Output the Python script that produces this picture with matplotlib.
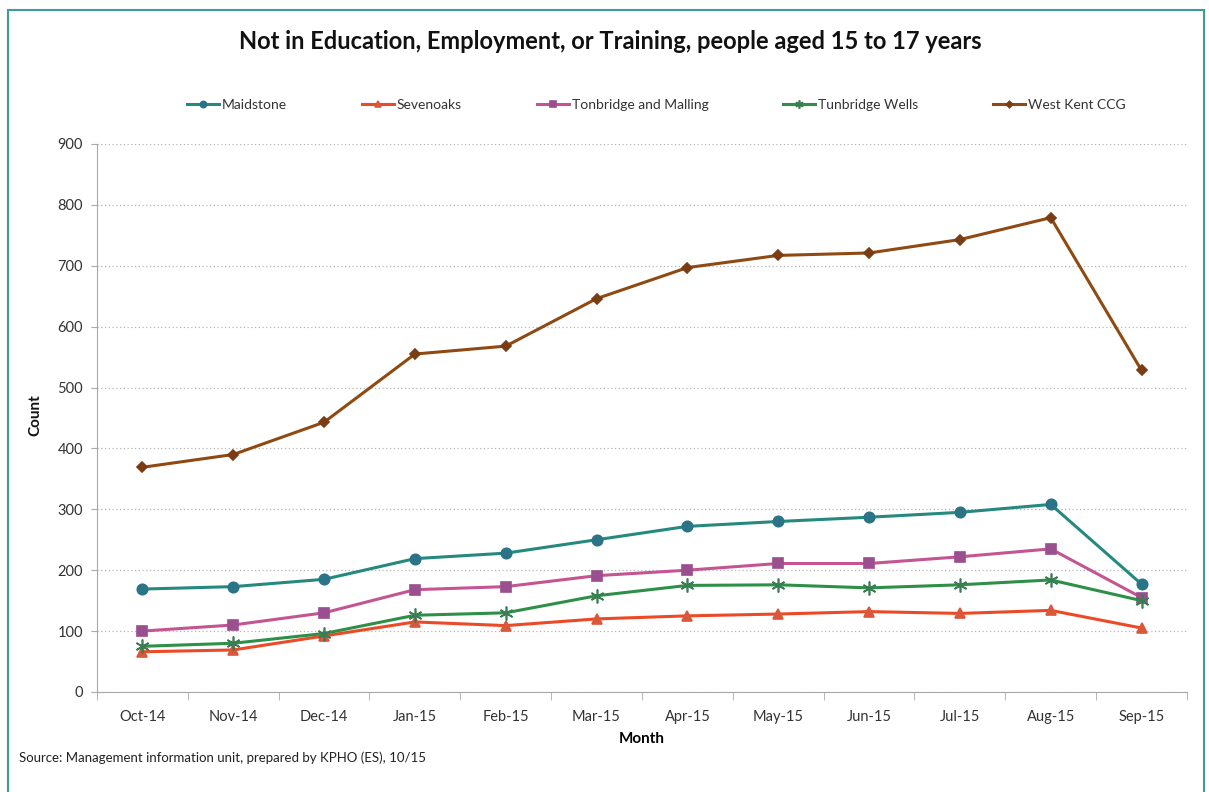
import matplotlib
matplotlib.use("Agg")
import matplotlib.pyplot as plt
from matplotlib.patches import Rectangle

months = ["Oct-14", "Nov-14", "Dec-14", "Jan-15", "Feb-15", "Mar-15",
          "Apr-15", "May-15", "Jun-15", "Jul-15", "Aug-15", "Sep-15"]

maidstone = [169, 173, 185, 219, 228, 250, 272, 280, 287, 295, 308, 177]
sevenoaks = [66, 69, 92, 115, 109, 120, 125, 128, 132, 129, 134, 105]
tonbridge_malling = [100, 110, 130, 168, 173, 191, 200, 211, 211, 222, 235, 155]
tunbridge_wells = [75, 80, 96, 126, 130, 158, 175, 176, 171, 176, 184, 150]
west_kent = [369, 390, 443, 555, 568, 646, 697, 717, 721, 743, 779, 528]

series = [
    ("Maidstone", maidstone, "#25897f", "#2b7488", "o", 7.5),
    ("Sevenoaks", sevenoaks, "#ec4a26", "#d9573a", "^", 7),
    ("Tonbridge and Malling", tonbridge_malling, "#c45592", "#9a4f8e", "s", 7),
    ("Tunbridge Wells", tunbridge_wells, "#2e9048", "#3a7d55", (6, 2, 0), 10),
    ("West Kent CCG", west_kent, "#8e4a12", "#7a3c12", "D", 5.5),
]

plt.rcParams["font.family"] = ["Lato", "DejaVu Sans"]

fig = plt.figure(figsize=(12.09, 7.92), dpi=100)
fig.patch.set_facecolor("white")

# outer frame
fig.add_artist(Rectangle((0.007, -0.01), 0.989, 0.997, transform=fig.transFigure,
                         fill=False, edgecolor="#3f9a9a", linewidth=1.5))

ax = fig.add_axes([0.0802, 0.1263, 0.9016, 0.6919])
x = list(range(len(months)))

for name, vals, lc, mc, mk, ms in series:
    ax.plot(x, vals, color=lc, linewidth=2.2, marker=mk, markersize=ms,
            markerfacecolor=mc, markeredgecolor=mc, markeredgewidth=1.2,
            label=name, zorder=3)

ax.set_xlim(-0.5, len(months) - 0.5)
ax.set_ylim(0, 900)
ax.set_yticks(range(0, 1000, 100))
ax.set_xticks(x)
ax.set_xticklabels(months)
ax.set_xticks([i - 0.5 for i in range(len(months) + 1)], minor=True)
ax.tick_params(axis="x", which="major", length=0, labelsize=10.5, colors="#333333", pad=13)
ax.tick_params(axis="x", which="minor", length=6, color="#aaaaaa", direction="out")
ax.tick_params(axis="y", length=4, color="#aaaaaa", labelsize=10.5, colors="#333333", pad=6)

ax.grid(axis="y", linestyle=(0, (1, 2)), color="#b5b5b5", linewidth=0.9)
ax.set_axisbelow(True)
for s in ["top", "right"]:
    ax.spines[s].set_visible(False)
for s in ["left", "bottom"]:
    ax.spines[s].set_color("#a8a8a8")

fig.text(0.029, 0.476, "Count", rotation=90, ha="center", va="center",
         fontsize=11, fontweight="bold", color="#111111")
ax.set_xlabel("Month", fontsize=11, fontweight="bold", labelpad=6)

fig.text(0.505, 0.947, "Not in Education, Employment, or Training, people aged 15 to 17 years",
         ha="center", va="center", fontsize=17, fontweight="bold", color="#111111")

fig.legend(loc="center", bbox_to_anchor=(0.543, 0.867), ncol=5, frameon=False,
           fontsize=10, handlelength=2.3, markerscale=0.6, columnspacing=5.4,
           handletextpad=0.2, labelcolor="#333333")

fig.text(0.016, 0.043, "Source: Management information unit, prepared by KPHO (ES), 10/15",
         ha="left", va="center", fontsize=9.5, color="#222222")

fig.savefig("out.png", dpi=100, facecolor="white")
